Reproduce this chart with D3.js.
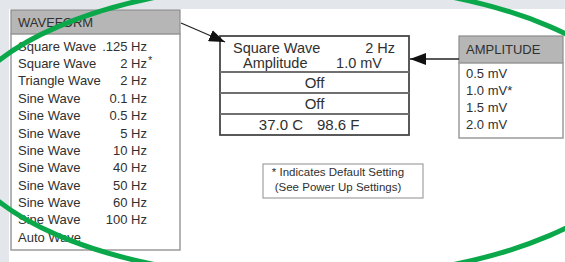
<!DOCTYPE html>
<html>
<head>
<meta charset="utf-8">
<script src="https://cdn.jsdelivr.net/npm/d3@7/dist/d3.min.js"></script>
<style>
  body { margin: 0; background: #fff; }
  text { font-family: "Liberation Sans", Arial, sans-serif; fill: #303030; }
</style>
</head>
<body>
<svg id="chart" width="565" height="262"></svg>
<script>
// Waveform menu
const waveNames = ["Square Wave", "Square Wave", "Triangle Wave", "Sine Wave", "Sine Wave", "Sine Wave",
                   "Sine Wave", "Sine Wave", "Sine Wave", "Sine Wave", "Sine Wave", "Auto Wave"];
const waveFreqs = [".125 Hz", "2 Hz", "2 Hz", "0.1 Hz", "0.5 Hz", "5 Hz", "10 Hz", "40 Hz", "50 Hz", "60 Hz", "100 Hz", ""];
const waveDefault = 1;

// Amplitude menu
const ampValues = ["0.5 mV", "1.0 mV", "1.5 mV", "2.0 mV"];
const ampDefault = 1;

// Display rows (each row: list of [left, right] lines, or a single centred string)
const displayRows = [
    [["Square Wave", "2 Hz"], ["Amplitude", "1.0 mV"]],
    "Off",
    "Off",
    [["37.0 C", "98.6 F"]]
];
const noteLines = ["* Indicates Default Setting", "(See Power Up Settings)"];

const svg = d3.select("#chart");

// page background: scanned grey border
svg.append("rect").attr("width", 565).attr("height", 262).attr("fill", "#e3e6eb");
svg.append("rect").attr("x", 9).attr("y", 9).attr("width", 556).attr("height", 253).attr("fill", "#fff");

// arrow marker
svg.append("defs").append("marker")
    .attr("id", "head")
    .attr("markerUnits", "userSpaceOnUse")
    .attr("viewBox", "0 0 16 12")
    .attr("refX", 16).attr("refY", 6)
    .attr("markerWidth", 16).attr("markerHeight", 12)
    .attr("orient", "auto")
    .append("path")
    .attr("d", "M0,0 L16,6 L0,12 Z")
    .attr("fill", "#111");

// ---- menu boxes
function drawMenu(x, y, w, headH, h, title, rows, defIdx, rowY, valueX) {
    const g = svg.append("g");
    g.append("rect").attr("x", x).attr("y", y).attr("width", w).attr("height", headH)
        .attr("fill", "#b6b6b6").attr("stroke", "#8c8c8c").attr("stroke-width", 1.2);
    g.append("rect").attr("x", x).attr("y", y + headH).attr("width", w).attr("height", h - headH)
        .attr("fill", "#fff").attr("stroke", "#9a9a9a").attr("stroke-width", 1.5);
    g.append("text").attr("x", x + 7).attr("y", y + headH / 2).attr("dy", "0.36em")
        .attr("font-size", 13).text(title);

    const row = g.selectAll(".row").data(rows).enter().append("g")
        .attr("transform", (d, i) => `translate(0,${rowY(i)})`);
    row.append("text").attr("x", x + 7).attr("dy", "0.36em").attr("font-size", 13)
        .text(d => d.name + (valueX == null && d.idx === defIdx ? "*" : ""));
    if (valueX != null) {
        row.append("text").attr("x", valueX).attr("dy", "0.36em").attr("font-size", 13)
            .attr("text-anchor", "end").text(d => d.value);
        row.filter(d => d.idx === defIdx).append("text")
            .attr("x", valueX + 1).attr("dy", "0.1em").attr("font-size", 11).text("*");
    }
}

const waveY = d3.scaleLinear().domain([0, waveNames.length - 1]).range([46, 237]);
drawMenu(11, 10, 169, 24, 240, "WAVEFORM",
    waveNames.map((n, i) => ({ name: n, value: waveFreqs[i], idx: i })), waveDefault, waveY, 147);

const ampY = d3.scaleLinear().domain([0, ampValues.length - 1]).range([73, 124]);
drawMenu(459, 36, 104, 27, 102, "AMPLITUDE",
    ampValues.map((v, i) => ({ name: v, idx: i })), ampDefault, ampY, null);

// ---- Display box
const box = { x: 220, y: 36, w: 189 };
const rowH = [36, 21, 21, 21];
const rowTop = rowH.map((h, i) => box.y + d3.sum(rowH.slice(0, i)));
const boxH = d3.sum(rowH);
const dg = svg.append("g");

dg.append("rect").attr("x", box.x).attr("y", box.y).attr("width", box.w).attr("height", boxH)
    .attr("fill", "#fff").attr("stroke", "#474747").attr("stroke-width", 1.8);
dg.selectAll(".div").data(rowTop.slice(1)).enter().append("line")
    .attr("x1", box.x).attr("x2", box.x + box.w)
    .attr("y1", d => d).attr("y2", d => d)
    .attr("stroke", "#707070").attr("stroke-width", 2);

displayRows.forEach((r, i) => {
    const top = rowTop[i], h = rowH[i];
    if (typeof r === "string") {
        dg.append("text").attr("x", box.x + box.w / 2).attr("y", top + h / 2).attr("dy", "0.36em")
            .attr("text-anchor", "middle").attr("font-size", 15).text(r);
    } else if (r.length === 2) {
        // two tight lines in the first row
        const lineY = d3.scaleLinear().domain([0, 1]).range([top + 11.5, top + 26.5]);
        dg.append("text").attr("x", box.x + 13).attr("y", lineY(0)).attr("dy", "0.36em")
            .attr("font-size", 14.5).text(r[0][0]);
        dg.append("text").attr("x", box.x + 175).attr("y", lineY(0)).attr("dy", "0.36em")
            .attr("font-size", 14.5).attr("text-anchor", "end").text(r[0][1]);
        dg.append("text").attr("x", box.x + 23).attr("y", lineY(1)).attr("dy", "0.36em")
            .attr("font-size", 14.5).text(r[1][0]);
        dg.append("text").attr("x", box.x + 162).attr("y", lineY(1)).attr("dy", "0.36em")
            .attr("font-size", 14.5).attr("text-anchor", "end").text(r[1][1]);
    } else {
        dg.append("text").attr("x", box.x + 83).attr("y", top + h / 2).attr("dy", "0.36em")
            .attr("font-size", 15).attr("text-anchor", "end").text(r[0][0]);
        dg.append("text").attr("x", box.x + 97).attr("y", top + h / 2).attr("dy", "0.36em")
            .attr("font-size", 15).text(r[0][1]);
    }
});

// ---- Arrows
svg.append("line").attr("x1", 181).attr("y1", 23).attr("x2", 225).attr("y2", 42)
    .attr("stroke", "#222").attr("stroke-width", 1.3).attr("marker-end", "url(#head)");
svg.append("line").attr("x1", 459).attr("y1", 59).attr("x2", 410).attr("y2", 59)
    .attr("stroke", "#222").attr("stroke-width", 1.3).attr("marker-end", "url(#head)");

// ---- Note box
svg.append("rect").attr("x", 263).attr("y", 164).attr("width", 160).attr("height", 34)
    .attr("fill", "#fff").attr("stroke", "#a0a0a0").attr("stroke-width", 1.2);
svg.selectAll(".note").data(noteLines).enter().append("text")
    .attr("x", 338).attr("y", (d, i) => 172 + i * 15).attr("dy", "0.36em")
    .attr("text-anchor", "middle").attr("font-size", 11.5).text(d => d);

// ---- Green highlight ellipse
svg.append("ellipse").attr("cx", 304).attr("cy", 131).attr("rx", 347).attr("ry", 148)
    .attr("fill", "none").attr("stroke", "#0aa84a").attr("stroke-width", 5);
</script>
</body>
</html>
